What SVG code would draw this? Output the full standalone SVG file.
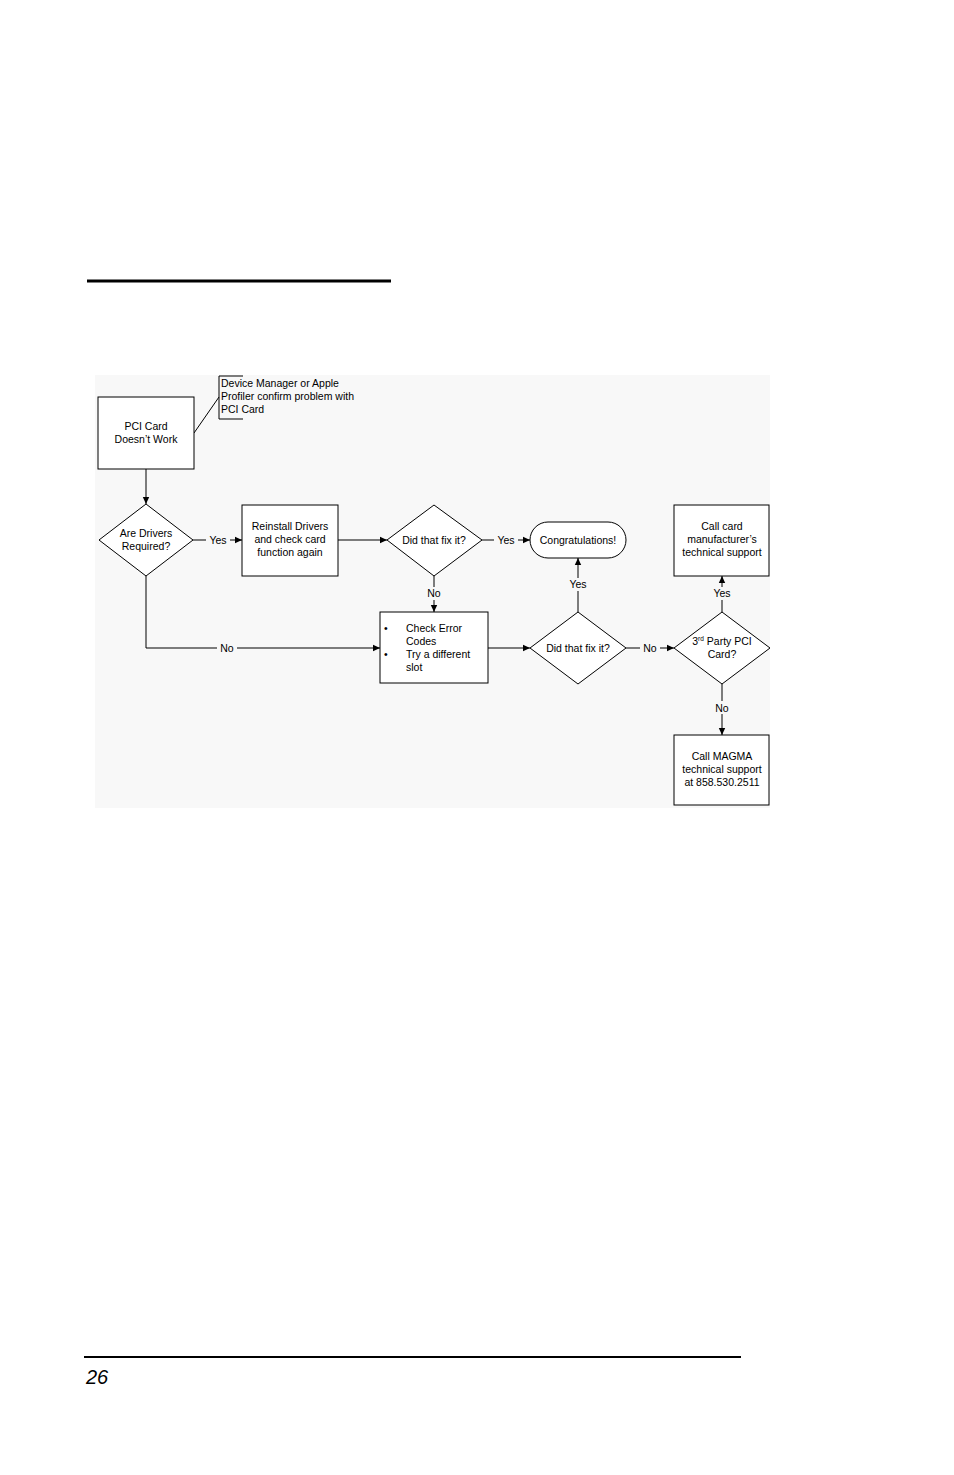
<svg xmlns="http://www.w3.org/2000/svg" width="954" height="1475" viewBox="0 0 954 1475">
<style>
.s{fill:#fff;stroke:#000;stroke-width:1}
.l{fill:none;stroke:#000;stroke-width:1}
text{font-family:"Liberation Sans",Arial,sans-serif;font-size:10.5px;fill:#000}
.c{text-anchor:middle}
.lb{text-anchor:middle;dominant-baseline:central}
</style>
<defs><marker id="a" markerWidth="8" markerHeight="8" refX="7" refY="4" orient="auto" markerUnits="userSpaceOnUse"><path d="M0,0.8 L7,4 L0,7.2 z" fill="#000"/></marker></defs>
<rect width="954" height="1475" fill="#fff"/>
<rect x="95" y="375" width="675" height="433" fill="#f8f8f8"/>
<line x1="87" y1="281" x2="391" y2="281" stroke="#000" stroke-width="3"/>
<line x1="84" y1="1357" x2="741" y2="1357" stroke="#000" stroke-width="2"/>
<text x="86" y="1384" style="font-size:20px;font-style:italic">26</text>
<g id="connectors">
<line class="l" x1="146" y1="469" x2="146" y2="504" marker-end="url(#a)"/>
<line class="l" x1="193" y1="540" x2="242" y2="540" marker-end="url(#a)"/>
<line class="l" x1="338" y1="540" x2="387" y2="540" marker-end="url(#a)"/>
<line class="l" x1="482" y1="540" x2="530" y2="540" marker-end="url(#a)"/>
<line class="l" x1="434" y1="576" x2="434" y2="612" marker-end="url(#a)"/>
<polyline class="l" points="146,576 146,648 380,648" marker-end="url(#a)"/>
<line class="l" x1="488" y1="648" x2="530" y2="648" marker-end="url(#a)"/>
<line class="l" x1="578" y1="612" x2="578" y2="558" marker-end="url(#a)"/>
<line class="l" x1="626" y1="648" x2="674" y2="648" marker-end="url(#a)"/>
<line class="l" x1="722" y1="612" x2="722" y2="576" marker-end="url(#a)"/>
<line class="l" x1="722" y1="684" x2="722" y2="735" marker-end="url(#a)"/>
<line class="l" x1="194" y1="433" x2="219" y2="397"/>
<g>
<rect x="206" y="533" width="24" height="13" fill="#f8f8f8"/><text x="218" y="540" class="lb">Yes</text>
<rect x="494" y="533" width="24" height="13" fill="#f8f8f8"/><text x="506" y="540" class="lb">Yes</text>
<rect x="424" y="587" width="20" height="13" fill="#f8f8f8"/><text x="434" y="593" class="lb">No</text>
<rect x="217" y="641" width="20" height="13" fill="#f8f8f8"/><text x="227" y="648" class="lb">No</text>
<rect x="566" y="578" width="24" height="13" fill="#f8f8f8"/><text x="578" y="584" class="lb">Yes</text>
<rect x="640" y="641" width="20" height="13" fill="#f8f8f8"/><text x="650" y="648" class="lb">No</text>
<rect x="710" y="587" width="24" height="13" fill="#f8f8f8"/><text x="722" y="593" class="lb">Yes</text>
<rect x="712" y="701" width="20" height="13" fill="#f8f8f8"/><text x="722" y="708" class="lb">No</text>
</g>
</g>
<g id="callout">
<polyline class="l" points="243,376 219,376 219,419 243,419"/>
<text x="221" y="387">Device Manager or Apple</text>
<text x="221" y="400">Profiler confirm problem with</text>
<text x="221" y="413">PCI Card</text>
</g>
<g id="start"><rect class="s" x="98" y="397" width="96" height="72"/>
<text x="146" y="430" class="c">PCI Card</text><text x="146" y="443" class="c">Doesn’t Work</text></g>
<g id="d1"><polygon class="s" points="146,504 193,540 146,576 99,540"/>
<text x="146" y="537" class="c">Are Drivers</text><text x="146" y="550" class="c">Required?</text></g>
<g id="reinstall"><rect class="s" x="242" y="505" width="96" height="71"/>
<text x="290" y="530" class="c">Reinstall Drivers</text><text x="290" y="543" class="c">and check card</text><text x="290" y="556" class="c">function again</text></g>
<g id="d2"><polygon class="s" points="434,505 482,540 434,576 387,540"/>
<text x="434" y="544" class="c">Did that fix it?</text></g>
<g id="congrats"><rect class="s" x="530" y="522" width="96" height="36" rx="18"/>
<text x="578" y="544" class="c">Congratulations!</text></g>
<g id="check"><rect class="s" x="380" y="612" width="108" height="71"/>
<text x="384" y="632">•</text><text x="406" y="632">Check Error</text><text x="406" y="645">Codes</text>
<text x="384" y="658">•</text><text x="406" y="658">Try a different</text><text x="406" y="671">slot</text></g>
<g id="d3"><polygon class="s" points="578,612 626,648 578,684 530,648"/>
<text x="578" y="652" class="c">Did that fix it?</text></g>
<g id="d4"><polygon class="s" points="722,612 770,648 722,684 674,648"/>
<text x="722" y="645" class="c">3<tspan style="font-size:6.5px" dy="-4">rd</tspan><tspan dy="4"> Party PCI</tspan></text><text x="722" y="658" class="c">Card?</text></g>
<g id="manuf"><rect class="s" x="674" y="505" width="95" height="71"/>
<text x="722" y="530" class="c">Call card</text><text x="722" y="543" class="c">manufacturer’s</text><text x="722" y="556" class="c">technical support</text></g>
<g id="magma"><rect class="s" x="674" y="735" width="95" height="70"/>
<text x="722" y="760" class="c">Call MAGMA</text><text x="722" y="773" class="c">technical support</text><text x="722" y="786" class="c">at 858.530.2511</text></g>
</svg>
